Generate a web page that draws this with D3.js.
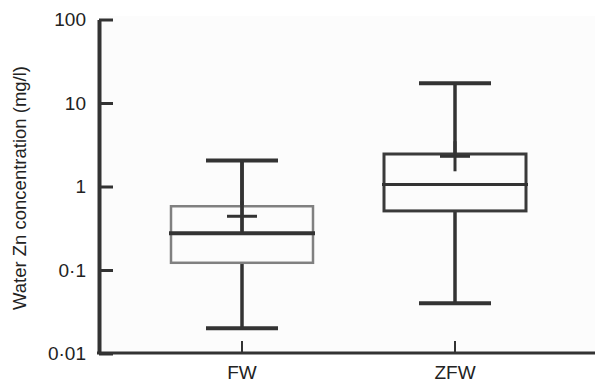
<!DOCTYPE html>
<html>
<head>
<meta charset="utf-8">
<script src="https://cdn.jsdelivr.net/npm/d3@7"></script>
<style>
  body { margin: 0; background: #fff; }
  text { font-family: "Liberation Sans", Arial, sans-serif; fill: #222; }
</style>
</head>
<body>
<div id="chart"></div>
<script>
// Size of the page (matches the reference picture)
var w = 595;
var h = 387;

// Data
var groups = ['FW', 'ZFW'];
var whiskerLow = [0.02, 0.04];
var boxLow = [0.122, 0.51];
var medians = [0.275, 1.06];
var boxHigh = [0.58, 2.45];
var whiskerHigh = [2.05, 17.2];
var means = [0.44, 2.3];
var yTicks = [0.01, 0.1, 1, 10, 100];

var svg = d3.select('#chart').append('svg')
      .attr('width', w)
      .attr('height', h);

var x = d3.scaleBand()
      .domain(groups)
      .range([135.5, 561.5]);

var y = d3.scaleLog()
      .domain([0.01, 100])
      .range([353.5, 19.5]);

// faint plot background
svg.append('rect')
    .attr('x', 100).attr('y', 16)
    .attr('width', w - 100).attr('height', 337)
    .attr('fill', '#fcfcfc');

var boxes = groups.map(function(g, i) {
  return {
    name: g,
    lo: whiskerLow[i], q1: boxLow[i], med: medians[i],
    q3: boxHigh[i], hi: whiskerHigh[i], mean: means[i]
  };
});

var g = svg.append('g').attr('class', 'boxes')
  .selectAll('g')
    .data(boxes)
  .enter().append('g');

var cx = function(d) { return x(d.name) + x.bandwidth() / 2; };
var boxW = 142, capW = 72, meanW = 30;

// whisker stem
g.append('line')
    .attr('x1', cx).attr('x2', cx)
    .attr('y1', function(d) { return y(d.lo); })
    .attr('y2', function(d) { return y(d.hi); })
    .attr('stroke', '#333').attr('stroke-width', 3.5);

// box (fill hides the stem inside)
g.append('rect')
    .attr('x', function(d) { return cx(d) - boxW / 2; })
    .attr('y', function(d) { return y(d.q3); })
    .attr('width', boxW)
    .attr('height', function(d) { return y(d.q1) - y(d.q3); })
    .attr('fill', '#fcfcfc')
    .attr('stroke', function(d, i) { return i === 0 ? '#808080' : '#3a3a3a'; })
    .attr('stroke-width', function(d, i) { return i === 0 ? 2.5 : 3; });

// FW stem shows through its box down to the median
g.append('line')
    .attr('x1', cx).attr('x2', cx)
    .attr('y1', function(d) { return y(d.hi); })
    .attr('y2', function(d) { return y(d.med); })
    .attr('stroke', '#333').attr('stroke-width', 3.5)
    .attr('display', function(d, i) { return i === 0 ? null : 'none'; });

// whisker caps
g.selectAll('.cap')
    .data(function(d) { return [d.lo, d.hi].map(function(v) { return {v: v, c: cx(d)}; }); })
  .enter().append('line')
    .attr('x1', function(d) { return d.c - capW / 2; })
    .attr('x2', function(d) { return d.c + capW / 2; })
    .attr('y1', function(d) { return y(d.v); })
    .attr('y2', function(d) { return y(d.v); })
    .attr('stroke', '#333').attr('stroke-width', 4);

// median
g.append('line')
    .attr('x1', function(d) { return cx(d) - boxW / 2 - 2; })
    .attr('x2', function(d) { return cx(d) + boxW / 2 + 2; })
    .attr('y1', function(d) { return y(d.med); })
    .attr('y2', function(d) { return y(d.med); })
    .attr('stroke', '#333')
    .attr('stroke-width', function(d, i) { return i === 0 ? 4 : 3; });

// mean cross
g.append('line')
    .attr('x1', function(d) { return cx(d) - meanW / 2; })
    .attr('x2', function(d) { return cx(d) + meanW / 2; })
    .attr('y1', function(d) { return y(d.mean); })
    .attr('y2', function(d) { return y(d.mean); })
    .attr('stroke', '#333').attr('stroke-width', 3);
g.append('line')
    .attr('x1', cx).attr('x2', cx)
    .attr('y1', function(d) { return y(d.mean) - 15; })
    .attr('y2', function(d) { return y(d.mean) + 15; })
    .attr('stroke', '#333').attr('stroke-width', 3);

// y axis, ticks pointing inward
var yAxis = d3.axisLeft(y)
    .tickValues(yTicks)
    .tickSizeInner(-14)
    .tickSizeOuter(0)
    .tickPadding(13)
    .tickFormat(function(d) { return String(d).replace('.', '\u00b7'); });

var ya = svg.append('g')
    .attr('transform', 'translate(99,0)')
    .call(yAxis);
ya.select('.domain').attr('stroke', '#333').attr('stroke-width', 4);
ya.selectAll('.tick line').attr('stroke', '#333').attr('stroke-width', 3);
ya.selectAll('.tick text').attr('font-size', 19).attr('fill', '#222')
    .attr('font-family', '"Liberation Sans", Arial, sans-serif');

// x axis, ticks pointing up
var xAxis = d3.axisBottom(x)
    .tickSizeInner(-12)
    .tickSizeOuter(0)
    .tickPadding(13);

var xa = svg.append('g')
    .attr('transform', 'translate(0,353)')
    .call(xAxis);
xa.select('.domain').attr('d', 'M97,0H' + w).attr('stroke', '#333').attr('stroke-width', 3);
xa.selectAll('.tick line').attr('stroke', '#333').attr('stroke-width', 2);
xa.selectAll('.tick text').attr('font-size', 19).attr('fill', '#222')
    .attr('font-family', '"Liberation Sans", Arial, sans-serif');

// axis title
svg.append('text')
    .attr('transform', 'translate(26,188) rotate(-90)')
    .attr('text-anchor', 'middle')
    .attr('font-size', 18.5)
    .text('Water Zn concentration (mg/l)');
</script>
</body>
</html>
